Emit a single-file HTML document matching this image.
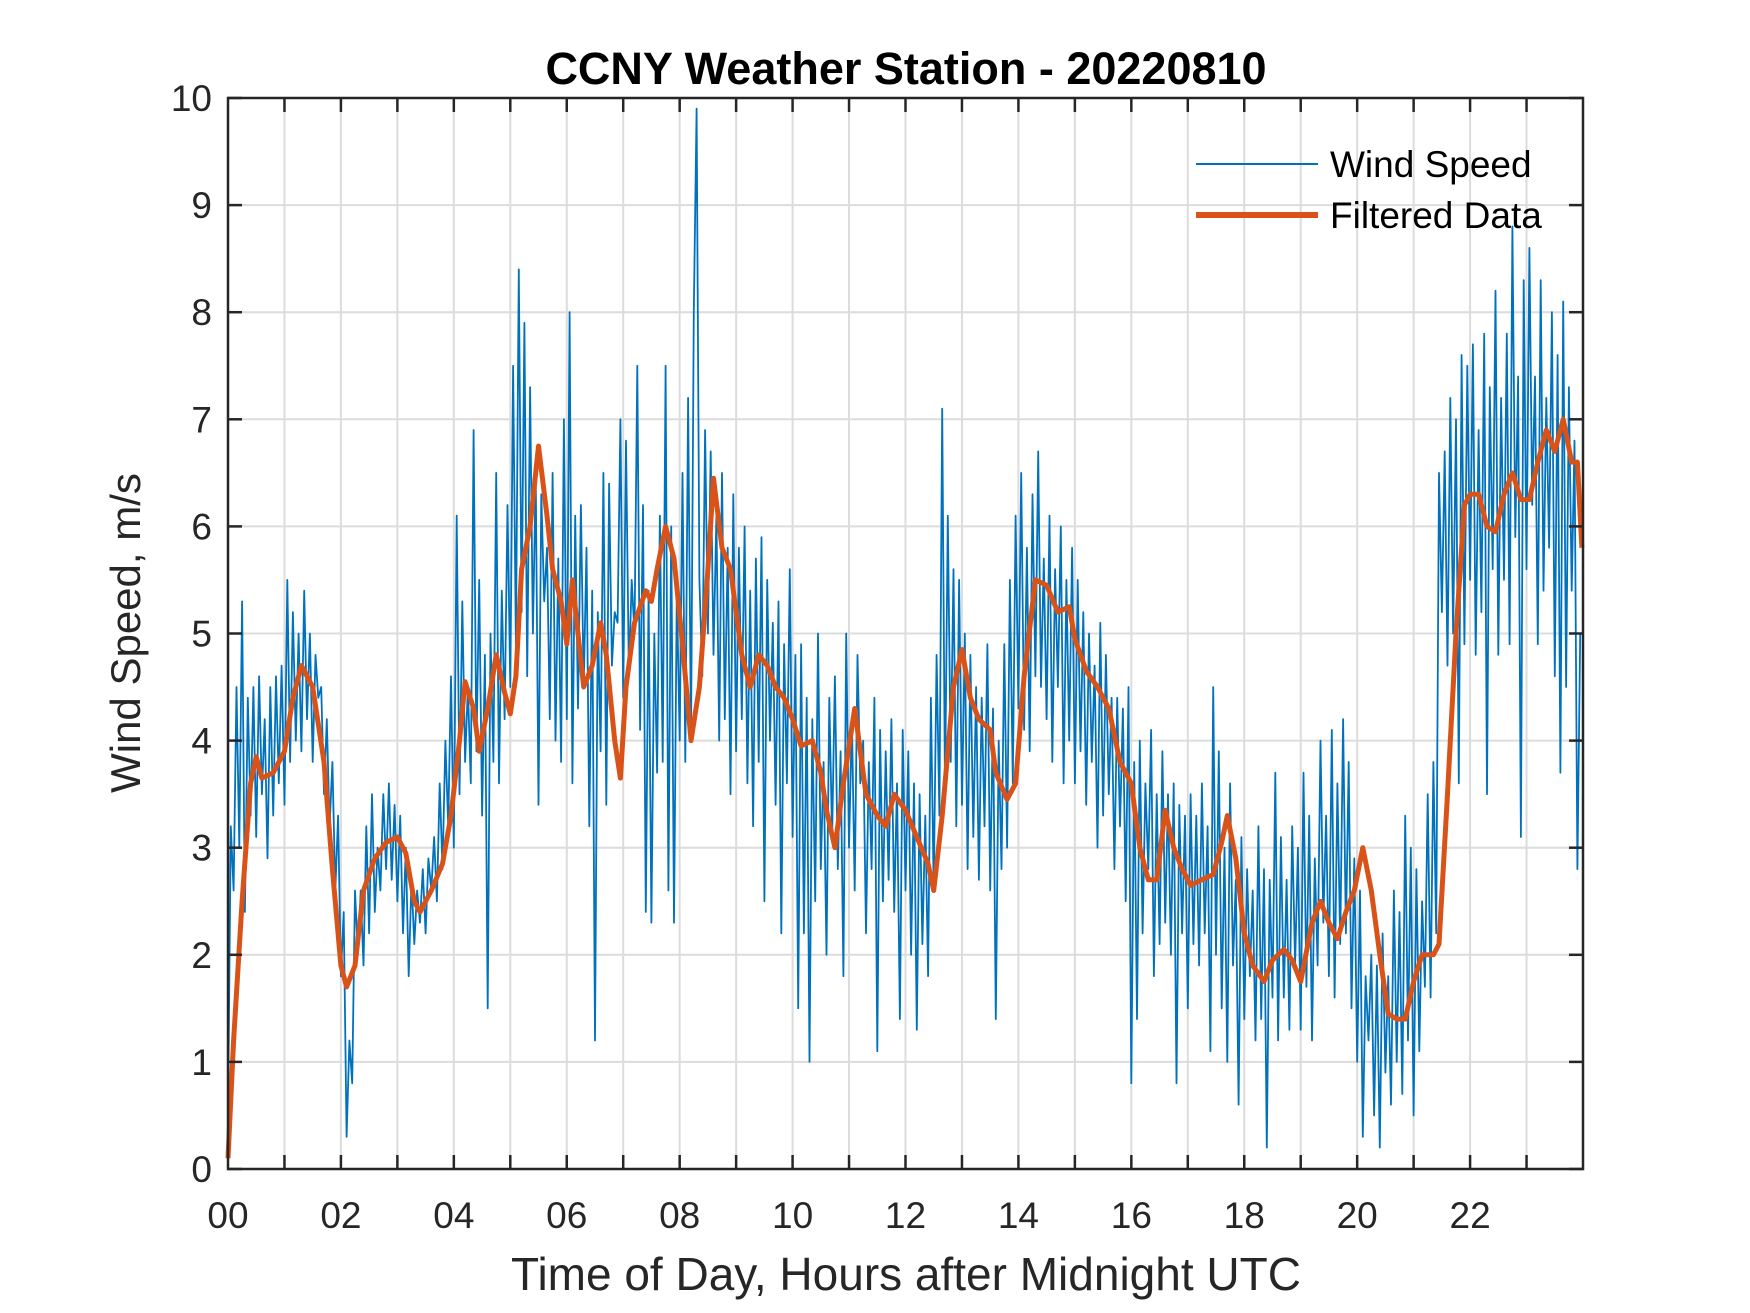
<!DOCTYPE html>
<html><head><meta charset="utf-8"><style>
html,body{margin:0;padding:0;background:#fff;}
svg{display:block;font-family:"Liberation Sans",sans-serif;}
</style></head><body>
<svg id="chart" width="1750" height="1313" viewBox="0 0 1750 1313">
<g id="grid"></g>
<g id="series"></g>
<g id="axes"></g>
<text x="906" y="84" text-anchor="middle" font-size="45" font-weight="bold" fill="#000">CCNY Weather Station - 20220810</text>
<text x="906" y="1290" text-anchor="middle" font-size="46" fill="#262626">Time of Day, Hours after Midnight UTC</text>
<text transform="translate(140,633) rotate(-90)" text-anchor="middle" font-size="42" fill="#262626">Wind Speed, m/s</text>
<g>
<line x1="1196" y1="164" x2="1318" y2="164" stroke="#0072BD" stroke-width="2"/>
<text x="1330" y="177" font-size="37" fill="#000">Wind Speed</text>
<line x1="1196" y1="215" x2="1318" y2="215" stroke="#D95319" stroke-width="6"/>
<text x="1330" y="228" font-size="37" fill="#000">Filtered Data</text>
</g>
</svg>
<script>
const xTickHours=[0,2,4,6,8,10,12,14,16,18,20,22];
const xTickLabels=["00","02","04","06","08","10","12","14","16","18","20","22"];
const yTicks=[0,1,2,3,4,5,6,7,8,9,10];
const rawStep=0.05;
const rawValues=[
0.5,3.2,2.6,4.5,3.0,5.3,2.4,4.4,3.3,4.5,3.1,4.6,3.5,4.2,2.9,4.5,3.3,4.6,3.6,4.7,
3.4,5.5,3.8,5.2,4.0,5.0,3.9,5.4,4.2,5.0,3.8,4.8,4.4,4.5,3.5,4.2,3.2,3.8,2.6,3.3,
1.8,2.4,0.3,1.2,0.8,2.6,2.0,2.6,1.9,3.2,2.2,3.5,2.4,3.0,2.6,3.5,2.8,3.6,2.7,3.4,
2.5,3.3,2.2,3.0,1.8,2.7,2.1,2.6,2.3,2.8,2.2,2.9,2.6,3.1,2.5,3.6,2.8,4.0,3.2,4.6,
3.0,6.1,3.5,5.3,3.8,4.5,3.6,6.9,3.9,5.5,3.3,4.8,1.5,5.0,3.8,6.5,3.6,5.4,4.2,6.2,
4.5,7.5,4.9,8.4,5.2,7.9,4.6,7.3,5.0,6.5,3.4,6.3,5.3,5.8,4.2,6.5,4.0,5.7,3.8,7.0,
4.2,8.0,3.6,6.1,4.3,6.2,4.5,5.8,3.2,5.4,1.2,5.2,3.9,6.5,3.4,6.4,4.7,5.2,5.1,7.0,
4.4,6.8,4.6,5.5,5.0,7.5,4.1,6.2,2.4,5.4,2.3,5.0,3.7,6.1,3.8,7.5,2.6,6.0,2.3,5.4,
4.0,6.5,3.8,7.2,4.0,8.0,9.9,5.5,4.6,6.9,5.0,6.7,4.8,6.1,4.0,6.5,4.2,5.8,3.5,6.3,
3.9,5.8,4.2,6.0,3.6,5.4,3.2,5.7,3.8,5.9,2.5,5.5,4.0,5.1,3.4,5.3,2.2,4.9,3.6,5.6,
3.1,4.8,1.5,4.9,2.2,4.4,1.0,4.2,2.5,5.0,2.8,3.8,2.0,4.4,3.1,4.6,2.8,3.9,1.8,5.0,
3.0,4.2,2.6,4.8,3.6,4.0,2.2,3.8,2.8,4.4,1.1,4.1,2.5,3.9,2.7,4.2,2.4,3.6,1.4,4.1,
2.6,3.9,2.0,3.6,1.3,3.5,2.1,3.3,1.8,4.4,2.6,4.8,3.3,7.1,3.5,6.1,3.8,5.6,3.2,5.5,
3.4,5.0,2.8,4.8,3.1,4.5,2.7,4.4,3.2,4.9,2.6,4.3,1.4,4.0,2.8,4.9,3.0,5.5,3.6,6.1,
4.3,6.5,4.1,5.8,3.9,6.3,4.6,6.7,4.5,5.7,4.2,6.1,3.8,5.6,4.5,6.0,3.6,5.5,4.0,5.8,
3.6,5.5,3.9,5.2,3.4,5.0,3.8,4.7,3.0,5.1,3.3,4.8,3.5,4.4,2.8,4.4,3.2,4.3,2.5,4.5,
0.8,3.8,1.4,4.0,2.2,3.6,2.8,4.1,1.8,3.5,2.1,3.9,2.3,3.5,2.0,3.6,0.8,3.4,2.2,3.3,
1.5,3.5,2.1,3.3,1.9,3.6,2.2,3.2,1.1,4.5,2.0,3.9,1.5,3.0,1.0,3.6,1.9,2.7,0.6,3.1,
1.4,2.8,1.8,2.6,1.2,3.2,1.4,2.8,0.2,2.7,1.6,3.7,1.2,3.1,1.6,2.7,1.3,3.2,1.9,3.0,
1.3,3.7,1.7,3.3,1.2,2.9,1.9,4.0,2.3,3.3,1.8,4.1,1.6,3.6,2.1,4.2,2.2,3.8,1.5,2.9,
1.0,2.6,0.3,1.8,1.2,2.0,0.5,1.9,0.2,2.2,0.9,1.8,0.6,2.6,1.0,2.4,0.7,3.3,1.2,3.0,
0.5,2.8,1.1,2.5,1.7,3.5,1.6,3.8,2.2,6.5,5.2,6.7,4.7,7.2,5.0,7.0,3.6,7.6,4.9,7.5,
5.5,7.7,4.8,6.9,5.2,7.8,3.5,7.3,5.6,8.2,4.8,7.2,5.5,7.8,4.9,8.8,5.9,7.4,3.1,8.3,
5.6,8.6,6.2,7.4,4.9,8.3,5.4,7.2,5.8,8.0,4.6,7.6,3.7,8.1,4.5,7.3,5.4,6.8,2.8,5.0
];
const filtHours=[0,0.1,0.25,0.4,0.5,0.6,0.8,1.0,1.15,1.3,1.5,1.7,1.85,2.0,2.1,2.25,2.4,2.6,2.8,3.0,3.15,3.3,3.4,3.6,3.8,3.95,4.1,4.2,4.35,4.45,4.6,4.75,4.9,5.0,5.1,5.2,5.35,5.5,5.65,5.75,5.9,6.0,6.1,6.2,6.3,6.45,6.6,6.7,6.85,6.95,7.05,7.2,7.4,7.5,7.6,7.75,7.9,8.05,8.2,8.35,8.5,8.6,8.75,8.9,9.0,9.1,9.25,9.4,9.55,9.7,9.85,10.0,10.15,10.35,10.5,10.6,10.75,10.9,11.1,11.3,11.5,11.65,11.8,12.0,12.2,12.4,12.5,12.65,12.85,13.0,13.15,13.3,13.5,13.6,13.8,13.95,14.1,14.3,14.5,14.7,14.9,15.0,15.2,15.4,15.6,15.8,16.0,16.15,16.3,16.45,16.6,16.75,16.9,17.05,17.25,17.45,17.6,17.7,17.85,18.0,18.15,18.35,18.5,18.7,18.85,19.0,19.2,19.35,19.5,19.65,19.8,19.95,20.1,20.25,20.4,20.55,20.7,20.85,21.0,21.15,21.35,21.45,21.6,21.75,21.9,22.0,22.15,22.3,22.45,22.6,22.75,22.9,23.05,23.2,23.35,23.5,23.65,23.8,23.9,23.98];
const filtValues=[0.1,1.2,2.5,3.6,3.85,3.65,3.7,3.9,4.4,4.7,4.5,3.8,2.8,1.9,1.7,1.9,2.6,2.9,3.05,3.1,2.95,2.5,2.4,2.6,2.85,3.3,4.0,4.55,4.3,3.9,4.3,4.8,4.45,4.25,4.6,5.6,6.0,6.75,6.1,5.6,5.3,4.9,5.5,5.0,4.5,4.7,5.1,4.8,4.0,3.65,4.5,5.1,5.4,5.3,5.6,6.0,5.7,4.9,4.0,4.5,5.6,6.45,5.8,5.6,5.2,4.8,4.5,4.8,4.7,4.5,4.4,4.2,3.95,4.0,3.7,3.35,3.0,3.6,4.3,3.5,3.3,3.2,3.5,3.35,3.1,2.85,2.6,3.3,4.5,4.85,4.4,4.2,4.1,3.7,3.45,3.6,4.6,5.5,5.45,5.2,5.25,4.95,4.65,4.5,4.3,3.8,3.6,3.0,2.7,2.7,3.35,3.0,2.8,2.65,2.7,2.75,3.05,3.3,2.9,2.2,1.9,1.75,1.95,2.05,1.95,1.75,2.3,2.5,2.3,2.15,2.4,2.6,3.0,2.6,2.0,1.45,1.4,1.4,1.75,2.0,2.0,2.1,3.5,5.0,6.2,6.3,6.3,6.0,5.95,6.3,6.5,6.25,6.25,6.6,6.9,6.7,7.0,6.6,6.6,5.8];

const L=228,R=1583,T=98,B=1169;
const xMin=0,xMax=24,yMin=0,yMax=10;
function xs(h){return L+(h-xMin)/(xMax-xMin)*(R-L);}
function ys(v){return B-(v-yMin)/(yMax-yMin)*(B-T);}
const NS="http://www.w3.org/2000/svg";
function mk(tag,attrs,parent){const e=document.createElementNS(NS,tag);for(const k in attrs)e.setAttribute(k,attrs[k]);parent.appendChild(e);return e;}
const grid=document.getElementById('grid'),series=document.getElementById('series'),axes=document.getElementById('axes');
for(let h=1;h<24;h++){
  const g=mk('line',{x1:xs(h),x2:xs(h),y1:T,y2:B,stroke:'#dcdcdc','stroke-width':2},grid);
  
  
}
for(const v of yTicks){
  if(v===yMin||v===yMax)continue;
  const g=mk('line',{x1:L,x2:R,y1:ys(v),y2:ys(v),stroke:'#dcdcdc','stroke-width':2},grid);
  
  
}
let d='';
rawValues.forEach((v,i)=>{d+=(i?'L':'M')+xs(i*rawStep).toFixed(1)+' '+ys(v).toFixed(1);});
const raw=mk('path',{d:d,fill:'none',stroke:'#0072BD','stroke-width':1.8,'stroke-linejoin':'round'},series);


let d2='';
filtValues.forEach((v,i)=>{d2+=(i?'L':'M')+xs(filtHours[i]).toFixed(1)+' '+ys(v).toFixed(1);});
const filt=mk('path',{d:d2,fill:'none',stroke:'#D95319','stroke-width':5,'stroke-linejoin':'round'},series);


const box=mk('rect',{x:L,y:T,width:R-L,height:B-T,fill:'none',stroke:'#262626','stroke-width':2.5},axes);


for(let h=1;h<24;h++){
  const t1=mk('line',{x1:xs(h),x2:xs(h),y1:B,y2:B-14,stroke:'#262626','stroke-width':2.5},axes);
  
  
  const t2=mk('line',{x1:xs(h),x2:xs(h),y1:T,y2:T+14,stroke:'#262626','stroke-width':2.5},axes);
  
  
}
xTickHours.forEach((h,i)=>{
  const t=mk('text',{x:xs(h),y:B+59,'text-anchor':'middle','font-size':37,fill:'#262626'},axes);
  t.textContent=xTickLabels[i];
  
  
});
yTicks.forEach(v=>{
  const t1=mk('line',{x1:L,x2:L+14,y1:ys(v),y2:ys(v),stroke:'#262626','stroke-width':2.5},axes);
  
  
  const t2=mk('line',{x1:R,x2:R-14,y1:ys(v),y2:ys(v),stroke:'#262626','stroke-width':2.5},axes);
  
  
  const t=mk('text',{x:L-16,y:ys(v)+13,'text-anchor':'end','font-size':37,fill:'#262626'},axes);
  t.textContent=String(v);
  
  
});
</script>
</body></html>
